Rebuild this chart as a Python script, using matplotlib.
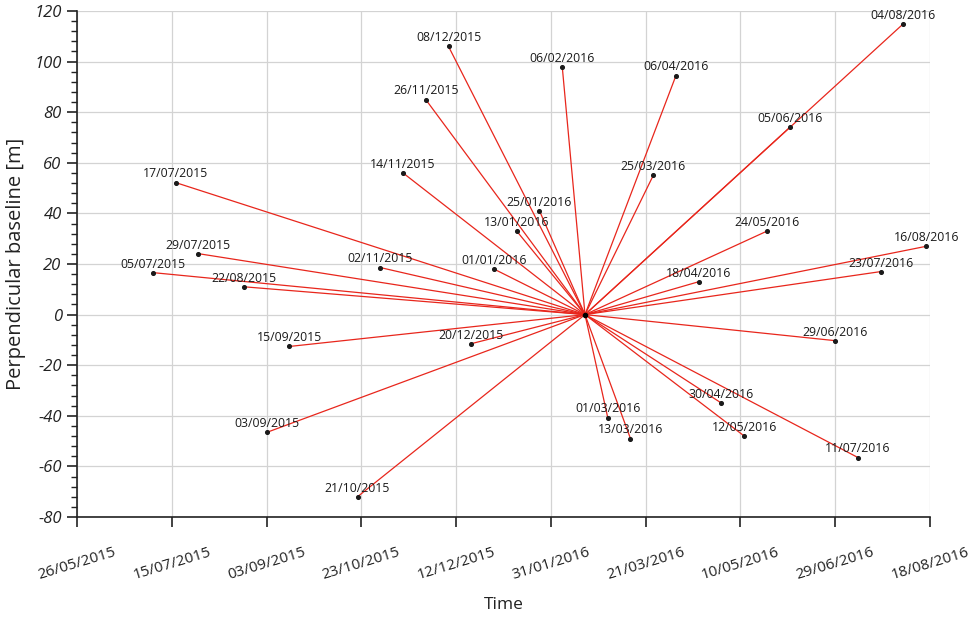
import matplotlib
matplotlib.use("Agg")
import matplotlib.pyplot as plt
from matplotlib.ticker import MultipleLocator
from datetime import datetime

plt.rcParams['font.family'] = ['Open Sans', 'DejaVu Sans']
plt.rcParams['axes.unicode_minus'] = False

master_date = "18/02/2016"
master_baseline = 0.0

dates = ["05/07/2015", "17/07/2015", "29/07/2015", "22/08/2015", "03/09/2015",
         "15/09/2015", "21/10/2015", "02/11/2015", "14/11/2015", "26/11/2015",
         "08/12/2015", "20/12/2015", "01/01/2016", "13/01/2016", "25/01/2016",
         "06/02/2016", "01/03/2016", "13/03/2016", "25/03/2016", "06/04/2016",
         "18/04/2016", "30/04/2016", "12/05/2016", "24/05/2016", "05/06/2016",
         "29/06/2016", "11/07/2016", "23/07/2016", "04/08/2016", "16/08/2016"]
baselines = [16.6, 52.2, 24.1, 11.0, -46.6,
             -12.6, -72.0, 18.6, 56.0, 85.0,
             106.0, -11.5, 18.0, 33.0, 41.0,
             98.0, -40.7, -49.0, 55.0, 94.5,
             13.0, -35.0, -48.0, 33.0, 74.0,
             -10.3, -56.5, 17.0, 115.0, 27.0]

tick_labels = ["26/05/2015", "15/07/2015", "03/09/2015", "23/10/2015", "12/12/2015",
               "31/01/2016", "21/03/2016", "10/05/2016", "29/06/2016", "18/08/2016"]

fmt = "%d/%m/%Y"
xd = [datetime.strptime(d, fmt) for d in dates]
xm = datetime.strptime(master_date, fmt)
xt = [datetime.strptime(d, fmt) for d in tick_labels]

fig = plt.figure(figsize=(9.73, 6.19), dpi=100)
ax = fig.add_axes([0.0791, 0.1648, 0.8767, 0.8174])

for x, y in zip(xd, baselines):
    ax.plot([xm, x], [master_baseline, y], color='#e8261c', lw=0.9, zorder=2)
ax.scatter(xd, baselines, s=7, color='#1a1a1a', zorder=3)
ax.scatter([xm], [master_baseline], s=9, color='black', zorder=4)

for x, y, lab in zip(xd, baselines, dates):
    ax.annotate(lab, (x, y), xytext=(0, 1.5), textcoords='offset points',
                ha='center', va='bottom', fontsize=8.8, color='#1a1a1a', zorder=5)

ax.set_xlim(xt[0], xt[-1])
ax.set_ylim(-80, 120)
ax.set_xticks(xt)
ax.set_xticklabels(tick_labels, rotation=17, fontsize=11, color='#222222')
ax.yaxis.set_major_locator(MultipleLocator(20))
ax.yaxis.set_minor_locator(MultipleLocator(4))
for t in ax.get_yticklabels():
    t.set_fontstyle('italic')
    t.set_fontsize(12)
    t.set_color('#222222')

ax.grid(True, which='major', color='#d3d3d3', lw=0.9, zorder=0)
ax.set_axisbelow(True)
for s in ['top', 'right']:
    ax.spines[s].set_visible(False)
for s in ['left', 'bottom']:
    ax.spines[s].set_color('#222222')
    ax.spines[s].set_linewidth(1.2)
ax.tick_params(axis='x', which='major', direction='out', length=7, width=1.2, color='#222222', pad=13)
ax.tick_params(axis='y', which='major', direction='out', length=7, width=1.2, color='#222222', pad=4)
ax.tick_params(axis='y', which='minor', direction='out', length=4, width=1.0, color='#222222')

ax.set_ylabel("Perpendicular baseline [m]", fontsize=14.5, color='#222222', labelpad=6)
ax.set_xlabel("Time", fontsize=12.5, color='#222222', labelpad=10)

fig.savefig("out.png", dpi=100)
